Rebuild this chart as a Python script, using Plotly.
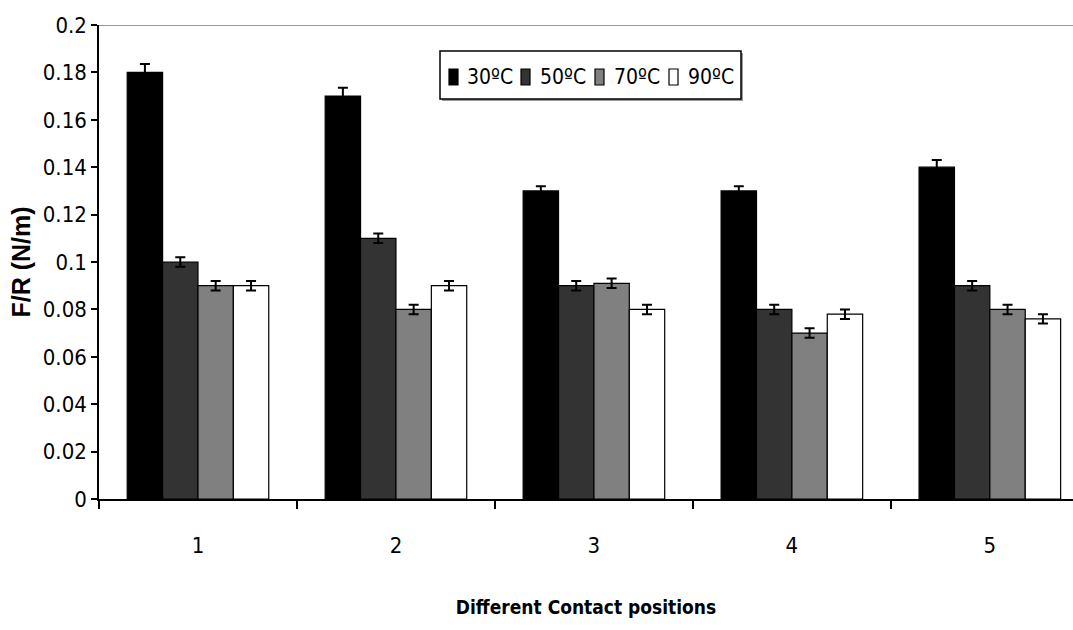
import plotly.graph_objects as go

positions = ["1", "2", "3", "4", "5"]
temps = ["30ºC", "50ºC", "70ºC", "90ºC"]
fr_30 = [0.18, 0.17, 0.13, 0.13, 0.14]
fr_50 = [0.10, 0.11, 0.09, 0.08, 0.09]
fr_70 = [0.09, 0.08, 0.091, 0.07, 0.08]
fr_90 = [0.09, 0.09, 0.08, 0.078, 0.076]
err_30 = [0.0035, 0.0035, 0.002, 0.002, 0.003]
err_other = [0.002, 0.002, 0.002, 0.002, 0.002]

series = [fr_30, fr_50, fr_70, fr_90]
errors = [err_30, err_other, err_other, err_other]
fills = ["#000000", "#333333", "#808080", "#ffffff"]

FONT = "DejaVu Sans Condensed, Liberation Sans Narrow, Arial Narrow, sans-serif"

# Plot-area geometry in pixels (used to place the compact key)
W, H = 1073, 630
ML, MR, MT, MB = 99, 0, 25, 131
PW, PH = W - ML - MR, H - MT - MB


def px_x(x):
    return (x - ML) / PW


def px_y(y):
    return (H - MB - y) / PH


fig = go.Figure()
for name, vals, errs, col in zip(temps, series, errors, fills):
    fig.add_trace(go.Bar(
        x=positions, y=vals, name=name,
        marker=dict(color=col, line=dict(color="#000000", width=1.2)),
        error_y=dict(type="data", array=errs, visible=True,
                     color="#000000", thickness=2, width=5),
        showlegend=False,
    ))

fig.update_layout(
    width=W, height=H,
    barmode="group", bargap=0.285, bargroupgap=0,
    plot_bgcolor="white", paper_bgcolor="white",
    margin=dict(l=ML, r=MR, t=MT, b=MB),
    font=dict(family=FONT, color="#000000", size=20),
    xaxis=dict(
        type="category", range=[-0.5, 4.42],
        showline=True, linecolor="#000000", linewidth=1.5,
        ticks="outside", tickson="boundaries", ticklen=8,
        tickcolor="#000000", tickwidth=1.5,
        tickfont=dict(family=FONT, size=22),
        ticklabelstandoff=26,
        title=dict(text="<b>Different Contact positions</b>",
                   font=dict(family=FONT, size=19), standoff=44),
        showgrid=False,
    ),
    yaxis=dict(
        range=[0, 0.2], dtick=0.02, tickformat="~g",
        showline=True, linecolor="#000000", linewidth=1.5,
        ticks="outside", ticklen=6, tickcolor="#000000", tickwidth=1.5,
        tickfont=dict(family=FONT, size=22),
        title=dict(text="<b>F/R (N/m)</b>",
                   font=dict(family="Liberation Sans, Arial, sans-serif", size=25),
                   standoff=5),
        showgrid=False, zeroline=False,
    ),
)

# Thin grey frame line along the top of the plotting area
fig.add_shape(type="line", xref="paper", yref="y", x0=0, x1=1, y0=0.2, y1=0.2,
              line=dict(color="#9a9a9a", width=2))

# Compact horizontal key: framed box with a small swatch + label per series
box_l, box_r, box_t, box_b = 440, 741, 51, 99
fig.add_shape(type="rect", xref="paper", yref="paper",
              x0=px_x(box_l + 2), x1=px_x(box_r + 2),
              y0=px_y(box_b + 2), y1=px_y(box_t + 2),
              line=dict(width=0), fillcolor="#9a9a9a")
fig.add_shape(type="rect", xref="paper", yref="paper",
              x0=px_x(box_l), x1=px_x(box_r), y0=px_y(box_b), y1=px_y(box_t),
              line=dict(color="#000000", width=1.5), fillcolor="white")

swatch_left = [449, 521, 595, 669]
label_left = [465, 538, 612, 686]
row_mid = 77
for name, col, sx, tx in zip(temps, fills, swatch_left, label_left):
    fig.add_shape(type="rect", xref="paper", yref="paper",
                  x0=px_x(sx), x1=px_x(sx + 9),
                  y0=px_y(row_mid + 8), y1=px_y(row_mid - 8),
                  line=dict(color="#000000", width=1.2), fillcolor=col)
    fig.add_annotation(xref="paper", yref="paper", x=px_x(tx), y=px_y(row_mid),
                       xanchor="left", yanchor="middle", showarrow=False,
                       text=name, font=dict(family=FONT, size=21, color="#000000"))

fig.write_html("out.html")
